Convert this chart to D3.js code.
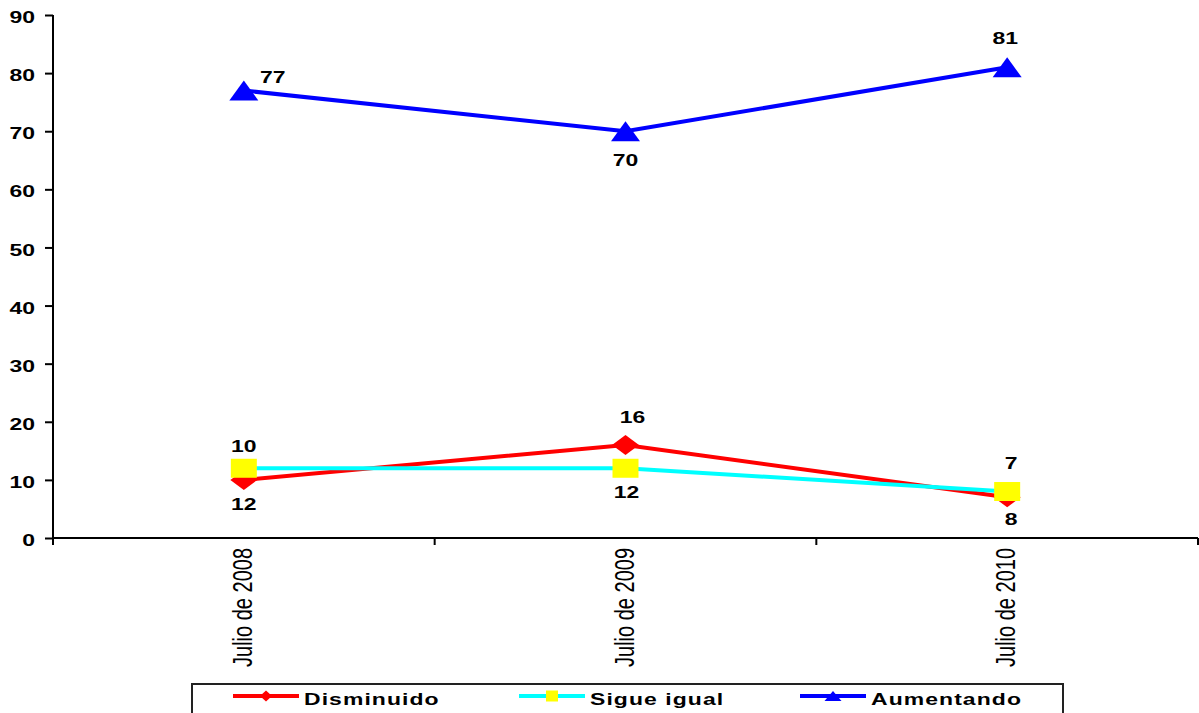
<!DOCTYPE html>
<html><head><meta charset="utf-8">
<script src="https://cdn.jsdelivr.net/npm/d3@7"></script>
<style>body{margin:0;background:#fff}svg{display:block}</style>
</head><body>
<script>
const categories = ["Julio de 2008", "Julio de 2009", "Julio de 2010"];
const disminuido = [10, 16, 7];
const sigueIgual = [12, 12, 8];
const aumentando = [77, 70, 81];
const yTicks = [0, 10, 20, 30, 40, 50, 60, 70, 80, 90];
const seriesNames = ["Disminuido", "Sigue igual", "Aumentando"];

const W = 1199, H = 713;
const SX = 1.35; // horizontal stretch of the text in the original picture
const FONT = "Liberation Sans, Arial, sans-serif";
const svg = d3.select("body").append("svg").attr("width", W).attr("height", H);

const x = d3.scaleBand().domain(categories).range([53, 1198]);
const y = d3.scaleLinear().domain([0, 90]).range([538, 15]);
const cx = c => x(c) + x.bandwidth() / 2;

// y axis
const yAxis = svg.append("g").attr("transform", "translate(53,0)")
  .call(d3.axisLeft(y).tickValues(yTicks).tickSize(8).tickPadding(10));
yAxis.select(".domain").attr("stroke", "#000").attr("stroke-width", 2).attr("d", "M0,15V545");
yAxis.selectAll(".tick line").attr("stroke", "#000").attr("stroke-width", 2);
yAxis.selectAll(".tick text")
  .attr("x", 0).attr("dy", "0.45em")
  .attr("transform", `translate(-18,0) scale(${SX},1)`)
  .attr("font-family", FONT).attr("font-weight", "bold").attr("font-size", 17).attr("fill", "#000");

// x axis
const xAxis = svg.append("g").attr("transform", "translate(0,538)");
xAxis.append("line").attr("x1", 53).attr("x2", 1198).attr("y1", 0).attr("y2", 0)
  .attr("stroke", "#000").attr("stroke-width", 2);
const bounds = categories.map(c => x(c) + x.bandwidth());
xAxis.selectAll("line.tk").data(bounds).enter().append("line").attr("class", "tk")
  .attr("x1", d => d).attr("x2", d => d).attr("y1", 0).attr("y2", 7)
  .attr("stroke", "#000").attr("stroke-width", 2);
xAxis.selectAll("text").data(categories).enter().append("text")
  .attr("transform", d => `translate(${cx(d) + 8},10) scale(${SX},1) rotate(-90)`)
  .attr("text-anchor", "end")
  .attr("font-family", FONT).attr("font-size", 20).attr("fill", "#000").text(d => d);

// marker shapes
const diamond = (g, px, py, w, h) => g.append("path")
  .attr("d", `M${px},${py - h / 2}L${px + w / 2},${py}L${px},${py + h / 2}L${px - w / 2},${py}Z`)
  .attr("fill", "#FF0000");
const square = (g, px, py, w, h) => g.append("rect")
  .attr("x", px - w / 2).attr("y", py - h / 2).attr("width", w).attr("height", h).attr("fill", "#FFFF00");
const triangle = (g, px, py, w, h) => g.append("path")
  .attr("d", `M${px},${py - h / 2}L${px + w / 2},${py + h / 2}L${px - w / 2},${py + h / 2}Z`)
  .attr("fill", "#0000FF");

const series = [
  {name: seriesNames[0], vals: disminuido, color: "#FF0000", marker: diamond, mw: 27, mh: 20, lw: 12, lh: 11,
   off: [[0, -28], [7, -22], [4, -28]]},
  {name: seriesNames[1], vals: sigueIgual, color: "#00FFFF", marker: square, mw: 26, mh: 19, lw: 12, lh: 11,
   off: [[0, 42], [1, 30], [4, 33]]},
  {name: seriesNames[2], vals: aumentando, color: "#0000FF", marker: triangle, mw: 29, mh: 20, lw: 17, lh: 10,
   off: [[29, -8], [0, 35], [-2, -23]]}
];

const line = d3.line().x(d => cx(d.c)).y(d => y(d.v));
series.forEach(s => {
  const pts = categories.map((c, i) => ({c, v: s.vals[i]}));
  const g = svg.append("g");
  g.append("path").attr("d", line(pts)).attr("fill", "none")
    .attr("stroke", s.color).attr("stroke-width", 4);
  pts.forEach(p => s.marker(g, cx(p.c), y(p.v), s.mw, s.mh));
});

// data labels
const lbl = (px, py, t) => svg.append("text")
  .attr("transform", `translate(${px},${py}) scale(${SX},1)`)
  .attr("text-anchor", "middle").attr("font-family", FONT)
  .attr("font-weight", "bold").attr("font-size", 17).attr("fill", "#000").text(t);
series.forEach(s => {
  categories.forEach((c, i) => lbl(cx(c) + s.off[i][0], y(s.vals[i]) + s.off[i][1], s.vals[i]));
});

// legend
const lg = svg.append("g");
lg.append("rect").attr("x", 192).attr("y", 684).attr("width", 871).attr("height", 40)
  .attr("fill", "#fff").attr("stroke", "#222").attr("stroke-width", 2);
const legX = [233, 519, 800];
series.forEach((s, i) => {
  const lx = legX[i];
  lg.append("line").attr("x1", lx).attr("x2", lx + 66).attr("y1", 696).attr("y2", 696)
    .attr("stroke", s.color).attr("stroke-width", 4);
  s.marker(lg, lx + 33, 696, s.lw, s.lh);
  lg.append("text").attr("transform", `translate(${lx + 71},705) scale(${SX},1)`)
    .attr("font-family", FONT).attr("font-weight", "bold")
    .attr("font-size", 17).attr("letter-spacing", 0.8).attr("fill", "#000").text(s.name);
});
</script>
</body></html>
